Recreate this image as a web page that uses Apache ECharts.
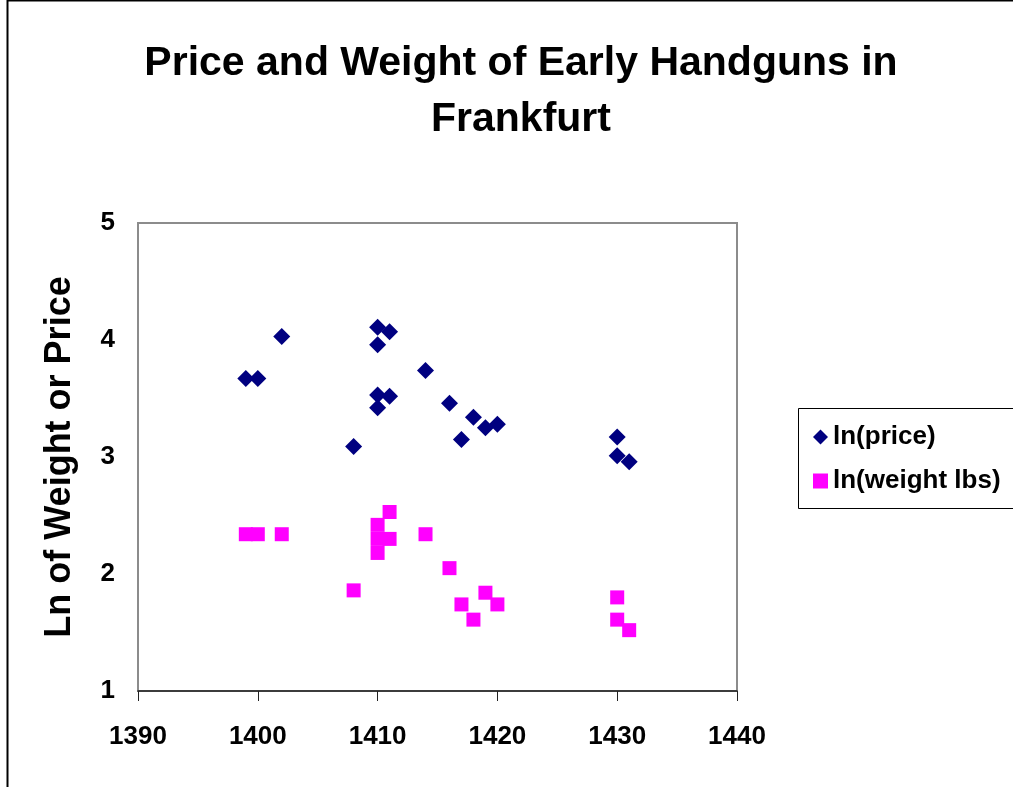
<!DOCTYPE html>
<html>
<head>
<meta charset="utf-8">
<script src="https://cdn.jsdelivr.net/npm/echarts@6/dist/echarts.min.js"></script>
<style>
  html, body { margin: 0; padding: 0; background: #fff; }
  #chart { width: 1013px; height: 787px; }
</style>
</head>
<body>
<div id="chart"></div>
<script>
// year of each handgun record, with ln(price)
const priceYears = [1399, 1400, 1402, 1408, 1410, 1410, 1410, 1410, 1411, 1411, 1414, 1416, 1417, 1418, 1419, 1420, 1430, 1430, 1431]
const lnPrice = [3.67, 3.67, 4.03, 3.09, 4.11, 3.96, 3.53, 3.42, 4.07, 3.52, 3.74, 3.46, 3.15, 3.34, 3.25, 3.28, 3.17, 3.01, 2.96]

// year of each handgun record, with ln(weight lbs)
const weightYears = [1399, 1400, 1402, 1408, 1410, 1410, 1410, 1411, 1411, 1414, 1416, 1417, 1418, 1419, 1420, 1430, 1430, 1431]
const lnWeight = [2.34, 2.34, 2.34, 1.86, 2.42, 2.30, 2.18, 2.53, 2.30, 2.34, 2.05, 1.74, 1.61, 1.84, 1.74, 1.80, 1.61, 1.52]

const xTicks = [1390, 1400, 1410, 1420, 1430, 1440]
const yTicks = [1, 2, 3, 4, 5]

const pair = (xs, ys) => xs.map((x, i) => [x, ys[i]])

const FONT = 'Liberation Sans, Arial, sans-serif'

const myChart = echarts.init(document.getElementById('chart'))

const option = {
  backgroundColor: '#fff',
  animation: false,
  textStyle: { fontFamily: FONT },
  title: {
    text: 'Price and Weight of Early Handguns in\nFrankfurt',
    left: 516,
    top: 31,
    textAlign: 'center',
    textStyle: {
      fontSize: 41,
      fontWeight: 'bold',
      color: '#000',
      lineHeight: 56,
      fontFamily: FONT
    }
  },
  // outer frame and legend box
  graphic: [
    {
      type: 'rect',
      shape: { x: 7.5, y: 0.5, width: 1020, height: 800 },
      style: { fill: 'none', stroke: '#000', lineWidth: 2 },
      silent: true
    },
    {
      type: 'rect',
      shape: { x: 798.5, y: 408.5, width: 230, height: 100 },
      style: { fill: 'none', stroke: '#000', lineWidth: 1 },
      silent: true
    }
  ],
  legend: {
    orient: 'vertical',
    left: 808,
    top: 419,
    itemGap: 18,
    itemWidth: 15,
    itemHeight: 15,
    textStyle: { fontSize: 26, fontWeight: 'bold', color: '#000', fontFamily: FONT },
    data: [
      { name: 'ln(price)', icon: 'diamond' },
      { name: 'ln(weight lbs)', icon: 'rect' }
    ]
  },
  grid: {
    left: 138,
    top: 223,
    width: 599,
    height: 468,
    show: true,
    borderColor: '#8c8c8c',
    borderWidth: 2,
    backgroundColor: '#fff'
  },
  xAxis: {
    type: 'value',
    min: xTicks[0],
    max: xTicks[xTicks.length - 1],
    interval: 10,
    axisLine: { show: true, lineStyle: { color: '#222', width: 1.5 } },
    axisTick: { show: true, length: 10, lineStyle: { color: '#222' } },
    splitLine: { show: false },
    axisLabel: {
      fontSize: 26,
      fontWeight: 'bold',
      color: '#000',
      margin: 33,
      fontFamily: FONT,
      formatter: v => String(v)
    }
  },
  yAxis: {
    type: 'value',
    min: yTicks[0],
    max: yTicks[yTicks.length - 1],
    interval: 1,
    name: 'Ln of Weight or Price',
    nameLocation: 'middle',
    nameGap: 60,
    nameTextStyle: { fontSize: 36, fontWeight: 'bold', color: '#000', fontFamily: FONT },
    axisLine: { show: false },
    axisTick: { show: false },
    splitLine: { show: false },
    axisLabel: { fontSize: 26, fontWeight: 'bold', color: '#000', margin: 23, fontFamily: FONT }
  },
  series: [
    {
      name: 'ln(price)',
      type: 'scatter',
      symbol: 'diamond',
      symbolSize: 17,
      itemStyle: { color: '#000080', opacity: 1 },
      data: pair(priceYears, lnPrice)
    },
    {
      name: 'ln(weight lbs)',
      type: 'scatter',
      symbol: 'rect',
      symbolSize: 14,
      itemStyle: { color: '#ff00ff', opacity: 1 },
      data: pair(weightYears, lnWeight)
    }
  ]
}

myChart.setOption(option)
</script>
</body>
</html>
